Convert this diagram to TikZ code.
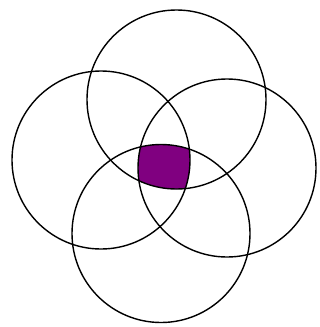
\documentclass[tikz,border=0pt]{standalone}
\definecolor{vpurple}{RGB}{128,0,128}
\begin{document}
\begin{tikzpicture}[x=1pt,y=-1pt,circ/.style={draw=black,line width=1.4pt}]
\useasboundingbox (0,0) rectangle (320,327);
\fill[white] (0,0) rectangle (320,327);
\coordinate (ct) at (176.5,99.5);
\coordinate (cl) at (101,160);
\coordinate (cr) at (227,168);
\coordinate (cb) at (161,233.5);
\begin{scope}
\clip (ct) circle[radius=89.5];
\clip (cl) circle[radius=89];
\clip (cr) circle[radius=89];
\fill[vpurple] (cb) circle[radius=89];
\end{scope}
\draw[circ] (ct) circle[radius=89.5];
\draw[circ] (cl) circle[radius=89];
\draw[circ] (cr) circle[radius=89];
\draw[circ] (cb) circle[radius=89];
\end{tikzpicture}
\end{document}
